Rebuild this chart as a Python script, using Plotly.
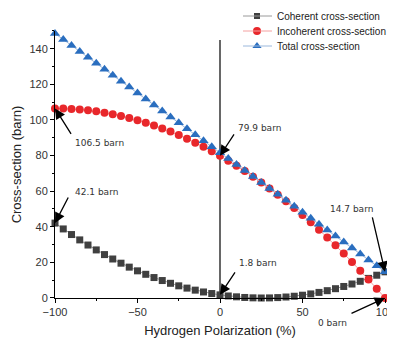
import plotly.graph_objects as go

polarization = [-100, -95, -90, -85, -80, -75, -70, -65, -60, -55, -50, -45, -40, -35, -30, -25, -20, -15, -10, -5,
                0, 5, 10, 15, 20, 25, 30, 35, 40, 45, 50, 55, 60, 65, 70, 75, 80, 85, 90, 95, 100]

coherent = [42.08, 38.80, 35.65, 32.64, 29.76, 27.01, 24.39, 21.91, 19.56, 17.34, 15.26, 13.31, 11.49, 9.81, 8.26,
            6.84, 5.56, 4.41, 3.39, 2.51, 1.76, 1.14, 0.66, 0.30, 0.09, 0.00, 0.05, 0.23, 0.55, 0.99, 1.57, 2.29,
            3.14, 4.12, 5.23, 6.48, 7.86, 9.37, 11.02, 12.80, 14.71]

incoherent = [106.50, 106.44, 106.24, 105.91, 105.44, 104.85, 104.12, 103.25, 102.26, 101.13, 99.86, 98.47, 96.94,
              95.27, 93.48, 91.55, 89.48, 87.29, 84.96, 82.50, 79.90, 77.17, 74.31, 71.31, 68.18, 64.92, 61.53,
              58.00, 54.34, 50.54, 46.61, 42.55, 38.36, 34.03, 29.57, 24.97, 20.24, 15.38, 10.39, 5.26, 0.00]

total = [148.58, 145.24, 141.89, 138.55, 135.20, 131.86, 128.51, 125.16, 121.82, 118.47, 115.12, 111.78, 108.43,
         105.08, 101.74, 98.39, 95.04, 91.70, 88.35, 85.01, 81.66, 78.31, 74.97, 71.61, 68.27, 64.92, 61.58, 58.23,
         54.89, 51.53, 48.18, 44.84, 41.50, 38.15, 34.80, 31.45, 28.10, 24.75, 21.41, 18.06, 14.71]

series_names = ["Coherent cross-section", "Incoherent cross-section", "Total cross-section"]

# annotations: (label, head x, head y, tail dx px, tail dy px, text x (data), text y (y-domain fraction))
notes = [
    ("106.5 barn", -100, 106.5, 17, 27, -89, 0.58),
    ("42.1 barn", -100, 42.1, 14, -27, -89, 0.397),
    ("79.9 barn", 0, 79.9, 15, -23, 9.6, 0.636),
    ("1.8 barn", 0, 1.8, 16, -24, 10.2, 0.13),
    ("14.7 barn", 100, 14.7, -13, -56, 65.7, 0.333),
    ("0 barn", 100, 0.0, -35, 16, 58.4, -0.095),
]

styles = [
    dict(line="#9a9a9a", marker="#404040", symbol="square", size=7, lsize=6),
    dict(line="#f4a0a0", marker="#e8272b", symbol="circle", size=8, lsize=8),
    dict(line="#9bb8dc", marker="#2a6ebf", symbol="triangle-up", size=9, lsize=8),
]

fig = go.Figure()
for name, vals, st in zip(series_names, [coherent, incoherent, total], styles):
    fig.add_trace(go.Scatter(x=polarization, y=vals, name=name, mode="lines+markers",
                             line=dict(color=st["line"], width=1),
                             marker=dict(symbol=st["symbol"], size=st["size"], color=st["marker"]),
                             cliponaxis=False, showlegend=False))

fig.add_shape(type="line", x0=0, x1=0, y0=0, y1=145, xref="x", yref="y",
              line=dict(color="black", width=1.2), layer="below")

annotations = []
for label, hx, hy, dx, dy, tx, ty in notes:
    annotations.append(dict(x=hx, y=hy, xref="x", yref="y", text="", showarrow=True,
                            ax=dx, ay=dy, axref="pixel", ayref="pixel",
                            arrowhead=2, arrowsize=1.6, arrowwidth=1.3, arrowcolor="black", standoff=0))
    annotations.append(dict(x=tx, y=ty, xref="x", yref="y domain", text=label, showarrow=False,
                            xanchor="left", yanchor="middle",
                            font=dict(family="DejaVu Sans", size=9, color="#333333")))

# compact legend drawn on a hidden helper axis pair (units = pixels of the drawing area)
leg_rows = [282, 267, 252]
leg_x0, leg_x1, leg_mx, leg_tx = 188, 217, 202, 220
for name, st, ry in zip(series_names, styles, leg_rows):
    fig.add_shape(type="line", x0=leg_x0, x1=leg_x1, y0=ry, y1=ry, xref="x2", yref="y2",
                  line=dict(color=st["line"], width=1))
    fig.add_trace(go.Scatter(x=[leg_mx], y=[ry], xaxis="x2", yaxis="y2", mode="markers",
                             marker=dict(symbol=st["symbol"], size=st["lsize"], color=st["marker"]),
                             cliponaxis=False, showlegend=False, hoverinfo="skip"))
    annotations.append(dict(x=leg_tx, y=ry, xref="x2", yref="y2", text=name, showarrow=False,
                            xanchor="left", yanchor="middle",
                            font=dict(family="Liberation Sans", size=10, color="#222222")))

axis_common = dict(showgrid=False, zeroline=False, showline=True, linecolor="black", linewidth=1,
                   ticks="outside", ticklen=4, tickcolor="black", tickwidth=1, automargin=False,
                   tickfont=dict(family="Liberation Sans", size=11, color="#333333"))

# page body has an 8px margin, so the figure is shrunk/offset to keep the plot area in place
fig.update_layout(
    width=387, height=332,
    margin=dict(l=47, r=10, t=0, b=42, autoexpand=False),
    plot_bgcolor="rgba(0,0,0,0)", paper_bgcolor="white",
    font=dict(family="Liberation Sans", color="#333333"),
    xaxis=dict(range=[-100, 100], tickvals=[-100, -50, 0, 50, 100], domain=[0, 1],
               minor=dict(ticks="outside", ticklen=2, dtick=25, tickcolor="black", showgrid=False),
               title=dict(text="Hydrogen Polarization (%)", font=dict(size=13, color="#222222"), standoff=8),
               **axis_common),
    yaxis=dict(range=[0, 150], tickvals=[0, 20, 40, 60, 80, 100, 120, 140], domain=[0, 0.9207],
               minor=dict(ticks="outside", ticklen=2, dtick=10, tickcolor="black", showgrid=False),
               title=dict(text="Cross-section (barn)", font=dict(size=13, color="#222222"), standoff=4),
               **axis_common),
    xaxis2=dict(domain=[0, 1], range=[0, 330], visible=False, fixedrange=True, anchor="y2"),
    yaxis2=dict(domain=[0, 1], range=[0, 290], visible=False, fixedrange=True, anchor="x2"),
    annotations=annotations,
    showlegend=False,
)

fig.write_html("out.html")
